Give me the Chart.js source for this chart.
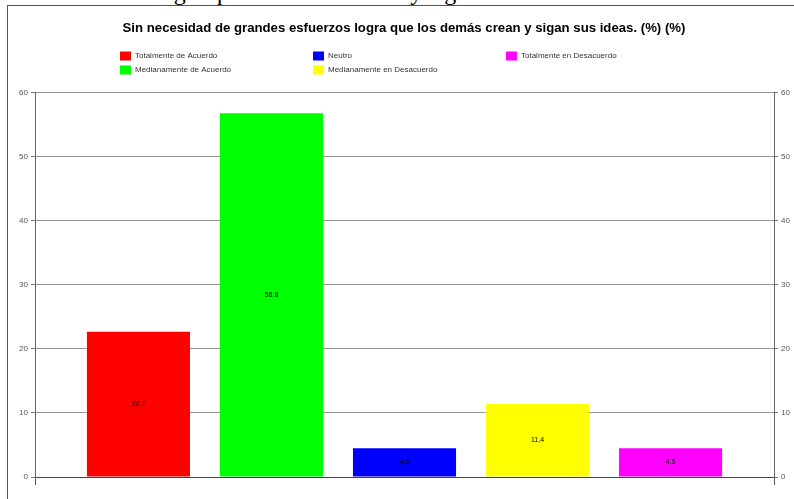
<!DOCTYPE html>
<html>
<head>
<meta charset="utf-8">
<script src="https://cdn.jsdelivr.net/npm/chart.js@4.4.1/dist/chart.umd.min.js"></script>
<style>
  html, body { margin: 0; padding: 0; background: #fff; overflow: hidden; }
  #wrap { position: relative; width: 794px; height: 499px; overflow: hidden; }
  #frame { position: absolute; left: 7px; top: 5px; width: 800px; height: 500px;
           border-left: 1px solid #555; border-top: 1px solid #555; }
  .doc { position: absolute; top: -20px; font-family: "Liberation Serif", "DejaVu Serif", serif;
         font-size: 24px; line-height: 24px; white-space: nowrap; color: #000; }
  #docL { right: 639px; }
  #docR { left: 155px; }
  canvas { position: absolute; left: 0; top: 0; }
</style>
</head>
<body>
<div id="wrap">
  <div class="doc" id="docL">Sin necesidad de grandes esfuerzos&nbsp;</div>
  <div class="doc" id="docR">logra que los demás crean y sigan sus ideas.</div>
  <div id="frame"></div>
  <canvas id="c" width="794" height="499"></canvas>
</div>
<script>
const titleText = "Sin necesidad de grandes esfuerzos logra que los demás crean y sigan sus ideas. (%) (%)";
const categories = ["Totalmente de Acuerdo", "Medianamente de Acuerdo", "Neutro", "Medianamente en Desacuerdo", "Totalmente en Desacuerdo"];
const values = [22.7, 56.8, 4.5, 11.4, 4.5];
const colors = ["#ff0000", "#00ff00", "#0000ff", "#ffff00", "#ff00ff"];
const yTicks = [0, 10, 20, 30, 40, 50, 60];

const datasets = categories.map((name, i) => ({
  label: name,
  data: [values[i]],
  backgroundColor: colors[i],
  borderWidth: 0,
  categoryPercentage: 0.9,
  barPercentage: 0.775,
  yAxisID: 'y'
}));

const legendPlugin = {
  id: 'gridLegend',
  afterDraw(chart) {
    const ctx = chart.ctx;
    const colX = [120, 313, 506];
    const rowY = [56, 70];
    ctx.save();
    ctx.font = '8px "Liberation Sans", Arial, sans-serif';
    ctx.textBaseline = 'middle';
    ctx.textAlign = 'left';
    chart.data.datasets.forEach((ds, i) => {
      const col = Math.floor(i / 2), row = i % 2;
      const x = colX[col], y = rowY[row];
      ctx.fillStyle = ds.backgroundColor;
      ctx.fillRect(x, y - 4.5, 11, 9);
      ctx.fillStyle = '#333';
      ctx.fillText(ds.label, x + 15, y);
    });
    ctx.restore();
  }
};

const valueLabels = {
  id: 'valueLabels',
  afterDatasetsDraw(chart) {
    const ctx = chart.ctx;
    ctx.save();
    ctx.font = '7px "Liberation Sans", Arial, sans-serif';
    ctx.fillStyle = '#000';
    ctx.textAlign = 'center';
    ctx.textBaseline = 'middle';
    chart.data.datasets.forEach((ds, i) => {
      const meta = chart.getDatasetMeta(i);
      meta.data.forEach((bar, j) => {
        const v = ds.data[j];
        const cy = (bar.y + bar.base) / 2;
        ctx.fillText(v.toFixed(1).replace('.', ','), bar.x, cy);
      });
    });
    ctx.restore();
  }
};

const tickFont = { family: '"Liberation Sans", Arial, sans-serif', size: 8 };

new Chart(document.getElementById('c'), {
  type: 'bar',
  data: { labels: [''], datasets },
  options: {
    responsive: false,
    animation: false,
    layout: { padding: { left: 14, right: 0, top: 0, bottom: 0 } },
    plugins: {
      legend: { display: false },
      tooltip: { enabled: false },
      title: {
        display: true,
        text: titleText,
        color: '#000',
        font: { family: '"Liberation Sans", Arial, sans-serif', size: 13.2, weight: 'bold', lineHeight: 1.2 },
        padding: { top: 20, bottom: 57 }
      }
    },
    scales: {
      x: {
        ticks: { display: false },
        grid: { display: true, drawOnChartArea: false, drawTicks: true, tickLength: 8, color: '#555' },
        border: { display: true, color: '#444', width: 1 },
        afterFit(s) { s.height = 22; }
      },
      y: {
        position: 'left',
        min: 0, max: 60,
        afterBuildTicks(s) { s.ticks = yTicks.map(v => ({ value: v })); },
        ticks: { font: tickFont, color: '#555', padding: 3 },
        grid: { color: '#959595', lineWidth: 1, tickLength: 4, tickColor: '#777' },
        border: { display: true, color: '#666' },
        afterFit(s) { s.width = 21; }
      },
      y2: {
        position: 'right',
        min: 0, max: 60,
        afterBuildTicks(s) { s.ticks = yTicks.map(v => ({ value: v })); },
        ticks: { font: tickFont, color: '#555', padding: 3 },
        grid: { drawOnChartArea: false, tickLength: 4, color: '#777' },
        border: { display: true, color: '#666' },
        afterFit(s) { s.width = 20; }
      }
    }
  },
  plugins: [legendPlugin, valueLabels]
});
</script>
</body>
</html>
